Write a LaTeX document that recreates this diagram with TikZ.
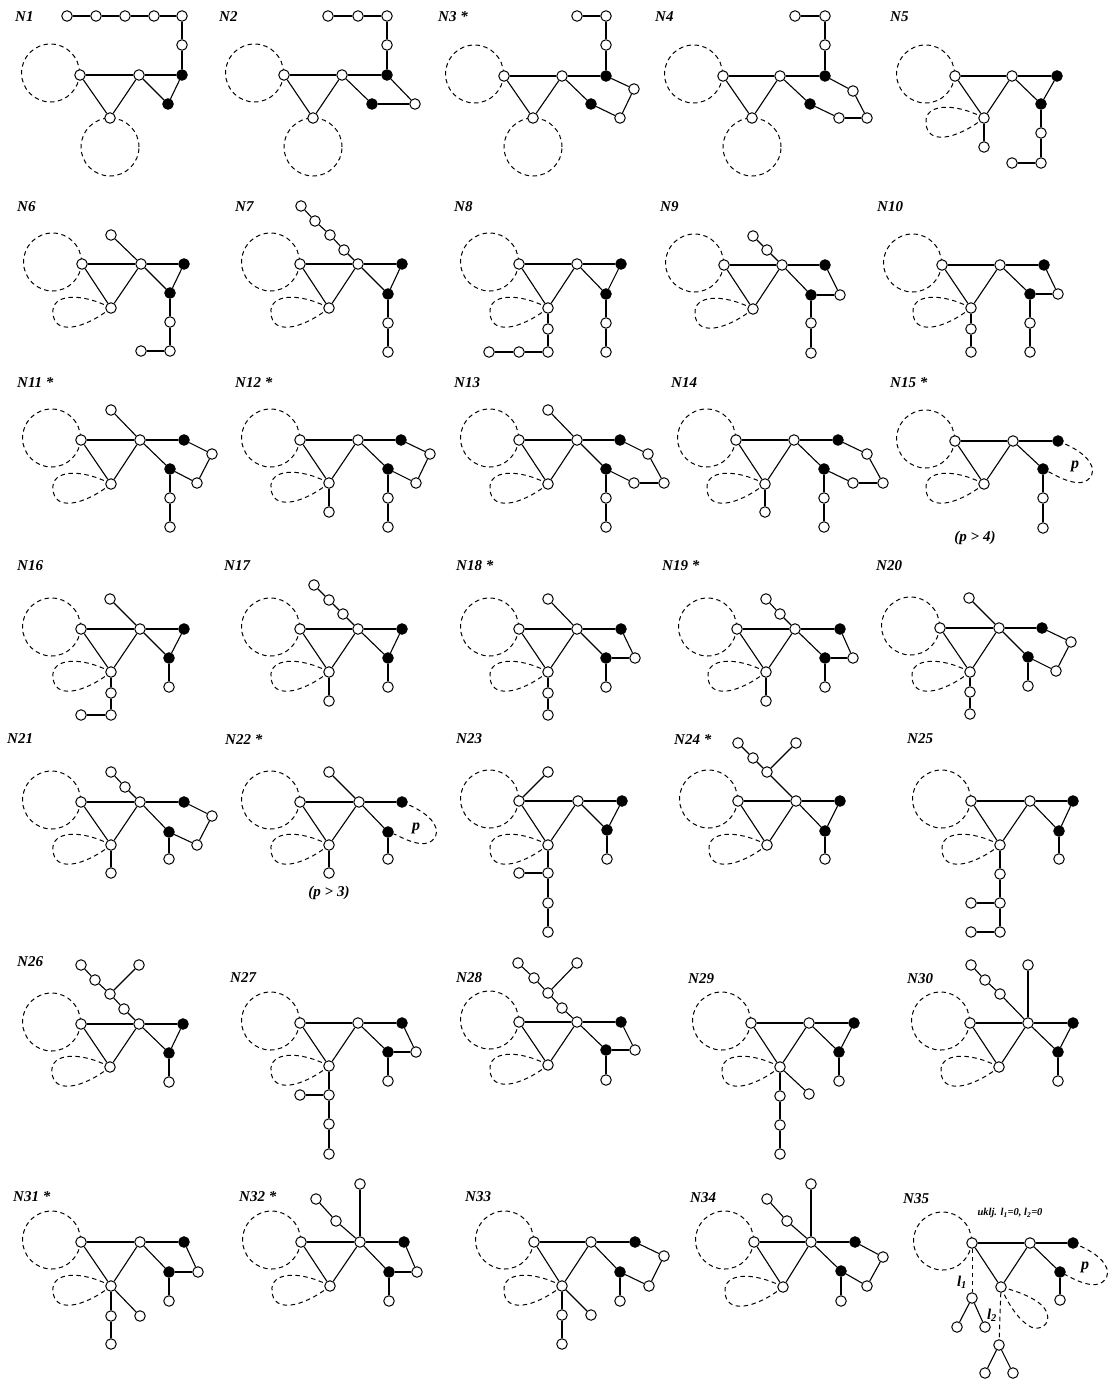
\documentclass[tikz,border=0pt]{standalone}
\usepackage{fontspec}
\setmainfont{Liberation Serif}
\usetikzlibrary{calc}
\pgfdeclarelayer{bg}
\pgfsetlayers{bg,main}
\tikzset{
 wnode/.style={circle,draw,fill=white,inner sep=0pt,minimum size=10.5pt,line width=1pt},
 bnode/.style={wnode,fill=black},
 edge/.style={line width=1.1pt},
 dsh/.style={line width=1pt,dash pattern=on 4.5pt off 3.5pt},
 lab/.style={anchor=west,inner sep=0pt,font=\fontsize{15}{17}\selectfont\bfseries\itshape},
 plab/.style={inner sep=0pt,font=\fontsize{16}{18}\selectfont\bfseries\itshape},
 cond/.style={inner sep=0pt,font=\fontsize{15}{17}\selectfont\bfseries\itshape},
}
\newcommand\Wn[3]{\node[wnode] (#1) at (#2,#3) {};}
\newcommand\Bn[3]{\node[bnode] (#1) at (#2,#3) {};}
\newcommand\E[1]{\foreach \u/\v in {#1} {\draw[edge] (\u)--(\v);}}
\newcommand\core[1]{\E{#1A/#1B,#1A/#1C,#1B/#1C,#1B/#1R,#1B/#1L}}
\newcommand\lcirc[1]{\begin{pgfonlayer}{bg}\draw[dsh] ($(#1)+(-29.5,-2)$) circle[radius=29pt];\end{pgfonlayer}}
\newcommand\bcirc[1]{\begin{pgfonlayer}{bg}\draw[dsh] ($(#1)+(0,29)$) circle[radius=29pt];\end{pgfonlayer}}
\newcommand\tear[1]{\begin{pgfonlayer}{bg}\begin{scope}[shift={(#1)}]\draw[dsh] (0,0) .. controls (-30,-16) and (-60,-14) .. (-58,5) .. controls (-57,27) and (-28,22) .. (0,0);\end{scope}\end{pgfonlayer}}
\newcommand\ploop[2]{\begin{pgfonlayer}{bg}\begin{scope}[shift={(#1)}]\draw[dsh] (0,0) .. controls (15,6) and (30,14) .. (34,26) .. controls (37,38) and (25,44) .. (15,41) .. controls (5,39) and (-5,33) .. (#2);\end{scope}\end{pgfonlayer}}
\begin{document}
\begin{tikzpicture}[x=1pt,y=-1pt]
\begin{pgfonlayer}{bg}\fill[white] (0,0) rectangle (1108,1383);\end{pgfonlayer}
\useasboundingbox (0,0) rectangle (1108,1383);
% ---------- labels
\node[lab] (t1) at (15,17) {N1};
\node[lab] (t2) at (219,17) {N2};
\node[lab] (t3) at (438,17) {N3 *};
\node[lab] (t4) at (655,17) {N4};
\node[lab] (t5) at (890,17) {N5};
\node[lab] (t6) at (17,207) {N6};
\node[lab] (t7) at (235,207) {N7};
\node[lab] (t8) at (454,207) {N8};
\node[lab] (t9) at (660,207) {N9};
\node[lab] (t10) at (877,207) {N10};
\node[lab] (t11) at (17,383) {N11 *};
\node[lab] (t12) at (235,383) {N12 *};
\node[lab] (t13) at (454,383) {N13};
\node[lab] (t14) at (671,383) {N14};
\node[lab] (t15) at (890,383) {N15 *};
\node[lab] (t16) at (17,566) {N16};
\node[lab] (t17) at (224,566) {N17};
\node[lab] (t18) at (456,566) {N18 *};
\node[lab] (t19) at (662,566) {N19 *};
\node[lab] (t20) at (876,566) {N20};
\node[lab] (t21) at (7,739) {N21};
\node[lab] (t22) at (225,739) {N22 *};
\node[lab] (t23) at (456,739) {N23};
\node[lab] (t24) at (674,739) {N24 *};
\node[lab] (t25) at (907,739) {N25};
\node[lab] (t26) at (17,962) {N26};
\node[lab] (t27) at (230,978) {N27};
\node[lab] (t28) at (456,978) {N28};
\node[lab] (t29) at (688,979) {N29};
\node[lab] (t30) at (907,979) {N30};
\node[lab] (t31) at (13,1197) {N31 *};
\node[lab] (t32) at (239,1197) {N32 *};
\node[lab] (t33) at (465,1197) {N33};
\node[lab] (t34) at (690,1198) {N34};
\node[lab] (t35) at (903,1199) {N35};
% ---------- N1
\Wn{n1A}{80}{75}\Wn{n1B}{139}{75}\Wn{n1C}{110}{118}\Bn{n1R}{182}{75}\Bn{n1L}{168}{104}
\Wn{n1T1}{182}{45}\Wn{n1T2}{182}{16}\Wn{n1T3}{154}{16}\Wn{n1T4}{125}{16}\Wn{n1T5}{96}{16}\Wn{n1T6}{67}{16}
\core{n1}\E{n1R/n1L,n1R/n1T1,n1T1/n1T2,n1T2/n1T3,n1T3/n1T4,n1T4/n1T5,n1T5/n1T6}
\lcirc{n1A}\bcirc{n1C}
% ---------- N2
\Wn{n2A}{284}{75}\Wn{n2B}{342}{75}\Wn{n2C}{313}{118}\Bn{n2R}{387}{75}\Bn{n2L}{372}{104}\Wn{n2X}{415}{104}
\Wn{n2T1}{387}{45}\Wn{n2T2}{387}{16}\Wn{n2T3}{358}{16}\Wn{n2T4}{328}{16}
\core{n2}\E{n2L/n2X,n2X/n2R,n2R/n2T1,n2T1/n2T2,n2T2/n2T3,n2T3/n2T4}
\lcirc{n2A}\bcirc{n2C}
% ---------- N3
\Wn{n3A}{504}{76}\Wn{n3B}{562}{76}\Wn{n3C}{533}{118}\Bn{n3R}{606}{76}\Bn{n3L}{591}{104}\Wn{n3X1}{620}{118}\Wn{n3X2}{634}{89}
\Wn{n3T1}{606}{45}\Wn{n3T2}{606}{16}\Wn{n3T3}{577}{16}
\core{n3}\E{n3L/n3X1,n3X1/n3X2,n3X2/n3R,n3R/n3T1,n3T1/n3T2,n3T2/n3T3}
\lcirc{n3A}\bcirc{n3C}
% ---------- N4
\Wn{n4A}{723}{76}\Wn{n4B}{780}{76}\Wn{n4C}{752}{118}\Bn{n4R}{825}{76}\Bn{n4L}{810}{104}\Wn{n4X1}{839}{118}\Wn{n4X2}{867}{118}\Wn{n4X3}{853}{91}
\Wn{n4T1}{825}{45}\Wn{n4T2}{825}{16}\Wn{n4T3}{795}{16}
\core{n4}\E{n4L/n4X1,n4X1/n4X2,n4X2/n4X3,n4X3/n4R,n4R/n4T1,n4T1/n4T2,n4T2/n4T3}
\lcirc{n4A}\bcirc{n4C}
% ---------- N5
\Wn{n5A}{955}{76}\Wn{n5B}{1012}{76}\Wn{n5C}{984}{118}\Bn{n5R}{1057}{76}\Bn{n5L}{1041}{104}
\Wn{n5D1}{1041}{133}\Wn{n5D2}{1041}{163}\Wn{n5D3}{1012}{163}\Wn{n5E1}{984}{147}
\core{n5}\E{n5R/n5L,n5L/n5D1,n5D1/n5D2,n5D2/n5D3,n5C/n5E1}
\lcirc{n5A}\tear{n5C}
% ---------- N6
\Wn{n6A}{82}{264}\Wn{n6B}{141}{264}\Wn{n6C}{111}{308}\Bn{n6R}{184}{264}\Bn{n6L}{170}{293}
\Wn{n6P}{111}{235}\Wn{n6D1}{170}{322}\Wn{n6D2}{170}{351}\Wn{n6D3}{141}{351}
\core{n6}\E{n6R/n6L,n6B/n6P,n6L/n6D1,n6D1/n6D2,n6D2/n6D3}
\lcirc{n6A}\tear{n6C}
% ---------- N7
\Wn{n7A}{300}{264}\Wn{n7B}{358}{264}\Wn{n7C}{329}{308}\Bn{n7R}{402}{264}\Bn{n7L}{388}{294}
\Wn{n7Q1}{344}{250}\Wn{n7Q2}{330}{235}\Wn{n7Q3}{315}{221}\Wn{n7Q4}{301}{206}\Wn{n7D1}{388}{323}\Wn{n7D2}{388}{352}
\core{n7}\E{n7R/n7L,n7B/n7Q1,n7Q1/n7Q2,n7Q2/n7Q3,n7Q3/n7Q4,n7L/n7D1,n7D1/n7D2}
\lcirc{n7A}\tear{n7C}
% ---------- N8
\Wn{n8A}{519}{264}\Wn{n8B}{577}{264}\Wn{n8C}{548}{308}\Bn{n8R}{621}{264}\Bn{n8L}{606}{294}
\Wn{n8D1}{606}{323}\Wn{n8D2}{606}{352}\Wn{n8E1}{548}{329}\Wn{n8E2}{548}{352}\Wn{n8E3}{519}{352}\Wn{n8E4}{489}{352}
\core{n8}\E{n8R/n8L,n8L/n8D1,n8D1/n8D2,n8C/n8E1,n8E1/n8E2,n8E2/n8E3,n8E3/n8E4}
\lcirc{n8A}\tear{n8C}
% ---------- N9
\Wn{n9A}{724}{265}\Wn{n9B}{782}{265}\Wn{n9C}{753}{309}\Bn{n9R}{825}{265}\Bn{n9L}{811}{295}\Wn{n9X}{840}{295}
\Wn{n9Q1}{767}{250}\Wn{n9Q2}{753}{236}\Wn{n9D1}{811}{323}\Wn{n9D2}{811}{353}
\core{n9}\E{n9L/n9X,n9X/n9R,n9B/n9Q1,n9Q1/n9Q2,n9L/n9D1,n9D1/n9D2}
\lcirc{n9A}\tear{n9C}
% ---------- N10
\Wn{n10A}{942}{265}\Wn{n10B}{1000}{265}\Wn{n10C}{971}{308}\Bn{n10R}{1044}{265}\Bn{n10L}{1030}{294}\Wn{n10X}{1058}{294}
\Wn{n10D1}{1030}{323}\Wn{n10D2}{1030}{352}\Wn{n10E1}{971}{329}\Wn{n10E2}{971}{352}
\core{n10}\E{n10L/n10X,n10X/n10R,n10L/n10D1,n10D1/n10D2,n10C/n10E1,n10E1/n10E2}
\lcirc{n10A}\tear{n10C}
% ---------- N11
\Wn{n11A}{81}{440}\Wn{n11B}{140}{440}\Wn{n11C}{111}{484}\Bn{n11R}{184}{440}\Bn{n11L}{170}{469}\Wn{n11X1}{197}{483}\Wn{n11X2}{212}{454}
\Wn{n11P}{111}{410}\Wn{n11D1}{170}{498}\Wn{n11D2}{170}{527}
\core{n11}\E{n11L/n11X1,n11X1/n11X2,n11X2/n11R,n11B/n11P,n11L/n11D1,n11D1/n11D2}
\lcirc{n11A}\tear{n11C}
% ---------- N12
\Wn{n12A}{300}{440}\Wn{n12B}{358}{440}\Wn{n12C}{329}{483}\Bn{n12R}{401}{440}\Bn{n12L}{388}{469}\Wn{n12X1}{416}{483}\Wn{n12X2}{430}{454}
\Wn{n12D1}{388}{498}\Wn{n12D2}{388}{527}\Wn{n12E1}{329}{512}
\core{n12}\E{n12L/n12X1,n12X1/n12X2,n12X2/n12R,n12L/n12D1,n12D1/n12D2,n12C/n12E1}
\lcirc{n12A}\tear{n12C}
% ---------- N13
\Wn{n13A}{519}{440}\Wn{n13B}{577}{440}\Wn{n13C}{548}{484}\Bn{n13R}{620}{440}\Bn{n13L}{606}{469}\Wn{n13X1}{634}{483}\Wn{n13X2}{664}{483}\Wn{n13X3}{648}{454}
\Wn{n13P}{548}{410}\Wn{n13D1}{606}{498}\Wn{n13D2}{606}{527}
\core{n13}\E{n13L/n13X1,n13X1/n13X2,n13X2/n13X3,n13X3/n13R,n13B/n13P,n13L/n13D1,n13D1/n13D2}
\lcirc{n13A}\tear{n13C}
% ---------- N14
\Wn{n14A}{736}{440}\Wn{n14B}{794}{440}\Wn{n14C}{765}{484}\Bn{n14R}{838}{440}\Bn{n14L}{824}{469}\Wn{n14X1}{853}{483}\Wn{n14X2}{883}{483}\Wn{n14X3}{867}{454}
\Wn{n14D1}{824}{498}\Wn{n14D2}{824}{527}\Wn{n14E1}{765}{512}
\core{n14}\E{n14L/n14X1,n14X1/n14X2,n14X2/n14X3,n14X3/n14R,n14L/n14D1,n14D1/n14D2,n14C/n14E1}
\lcirc{n14A}\tear{n14C}
% ---------- N15
\Wn{n15A}{955}{441}\Wn{n15B}{1013}{441}\Wn{n15C}{984}{484}\Bn{n15R}{1058}{441}\Bn{n15L}{1043}{469}
\Wn{n15D1}{1043}{498}\Wn{n15D2}{1043}{528}
\core{n15}\E{n15L/n15D1,n15D1/n15D2}
\lcirc{n15A}\tear{n15C}\ploop{n15R}{n15L}
\node[plab] (p15) at (1075,466) {p};
\node[cond] (c15) at (975,538) {(p > 4)};
% ---------- N16
\Wn{n16A}{81}{629}\Wn{n16B}{140}{629}\Wn{n16C}{111}{672}\Bn{n16R}{184}{629}\Bn{n16L}{169}{658}
\Wn{n16P}{110}{599}\Wn{n16D1}{169}{687}\Wn{n16E1}{111}{693}\Wn{n16E2}{111}{715}\Wn{n16E3}{81}{715}
\core{n16}\E{n16R/n16L,n16B/n16P,n16L/n16D1,n16C/n16E1,n16E1/n16E2,n16E2/n16E3}
\lcirc{n16A}\tear{n16C}
% ---------- N17
\Wn{n17A}{300}{629}\Wn{n17B}{358}{629}\Wn{n17C}{329}{672}\Bn{n17R}{402}{629}\Bn{n17L}{388}{658}
\Wn{n17Q1}{343}{614}\Wn{n17Q2}{329}{600}\Wn{n17Q3}{314}{585}\Wn{n17D1}{388}{687}\Wn{n17E1}{329}{701}
\core{n17}\E{n17R/n17L,n17B/n17Q1,n17Q1/n17Q2,n17Q2/n17Q3,n17L/n17D1,n17C/n17E1}
\lcirc{n17A}\tear{n17C}
% ---------- N18
\Wn{n18A}{519}{629}\Wn{n18B}{577}{629}\Wn{n18C}{548}{672}\Bn{n18R}{621}{629}\Bn{n18L}{606}{658}\Wn{n18X}{635}{658}
\Wn{n18P}{548}{599}\Wn{n18D1}{606}{687}\Wn{n18E1}{548}{693}\Wn{n18E2}{548}{715}
\core{n18}\E{n18L/n18X,n18X/n18R,n18B/n18P,n18L/n18D1,n18C/n18E1,n18E1/n18E2}
\lcirc{n18A}\tear{n18C}
% ---------- N19
\Wn{n19A}{737}{629}\Wn{n19B}{795}{629}\Wn{n19C}{766}{672}\Bn{n19R}{840}{629}\Bn{n19L}{825}{658}\Wn{n19X}{853}{658}
\Wn{n19Q1}{780}{614}\Wn{n19Q2}{766}{599}\Wn{n19D1}{825}{687}\Wn{n19E1}{766}{701}
\core{n19}\E{n19L/n19X,n19X/n19R,n19B/n19Q1,n19Q1/n19Q2,n19L/n19D1,n19C/n19E1}
\lcirc{n19A}\tear{n19C}
% ---------- N20
\Wn{n20A}{940}{628}\Wn{n20B}{999}{628}\Wn{n20C}{970}{672}\Bn{n20R}{1042}{628}\Bn{n20L}{1028}{657}\Wn{n20X1}{1056}{671}\Wn{n20X2}{1071}{642}
\Wn{n20P}{969}{598}\Wn{n20D1}{1028}{686}\Wn{n20E1}{970}{692}\Wn{n20E2}{970}{714}
\core{n20}\E{n20L/n20X1,n20X1/n20X2,n20X2/n20R,n20B/n20P,n20L/n20D1,n20C/n20E1,n20E1/n20E2}
\lcirc{n20A}\tear{n20C}
% ---------- N21
\Wn{n21A}{81}{802}\Wn{n21B}{140}{802}\Wn{n21C}{111}{845}\Bn{n21R}{184}{802}\Bn{n21L}{169}{832}\Wn{n21X1}{197}{845}\Wn{n21X2}{212}{816}
\Wn{n21Q1}{125}{787}\Wn{n21Q2}{111}{772}\Wn{n21D1}{169}{859}\Wn{n21E1}{111}{873}
\core{n21}\E{n21L/n21X1,n21X1/n21X2,n21X2/n21R,n21B/n21Q1,n21Q1/n21Q2,n21L/n21D1,n21C/n21E1}
\lcirc{n21A}\tear{n21C}
% ---------- N22
\Wn{n22A}{300}{802}\Wn{n22B}{359}{802}\Wn{n22C}{329}{845}\Bn{n22R}{402}{802}\Bn{n22L}{388}{832}
\Wn{n22P}{329}{772}\Wn{n22D1}{388}{859}\Wn{n22E1}{329}{873}
\core{n22}\E{n22B/n22P,n22L/n22D1,n22C/n22E1}
\lcirc{n22A}\tear{n22C}\ploop{n22R}{n22L}
\node[plab] (p22) at (416,828) {p};
\node[cond] (c22) at (329,893) {(p > 3)};
% ---------- N23
\Wn{n23A}{519}{801}\Wn{n23B}{578}{801}\Wn{n23C}{548}{845}\Bn{n23R}{622}{801}\Bn{n23L}{607}{830}
\Wn{n23P}{548}{772}\Wn{n23D1}{607}{859}\Wn{n23E1}{548}{873}\Wn{n23F}{519}{873}\Wn{n23E2}{548}{903}\Wn{n23E3}{548}{932}
\core{n23}\E{n23R/n23L,n23A/n23P,n23L/n23D1,n23C/n23E1,n23E1/n23F,n23E1/n23E2,n23E2/n23E3}
\lcirc{n23A}\tear{n23C}
% ---------- N24
\Wn{n24A}{738}{801}\Wn{n24B}{796}{801}\Wn{n24C}{767}{845}\Bn{n24R}{840}{801}\Bn{n24L}{825}{831}
\Wn{n24D1}{825}{859}\Wn{n24M}{767}{772}\Wn{n24Q1}{753}{758}\Wn{n24Q2}{738}{743}\Wn{n24U}{796}{743}
\core{n24}\E{n24R/n24L,n24L/n24D1,n24B/n24M,n24M/n24Q1,n24Q1/n24Q2,n24M/n24U}
\lcirc{n24A}\tear{n24C}
% ---------- N25
\Wn{n25A}{971}{801}\Wn{n25B}{1030}{801}\Wn{n25C}{1000}{845}\Bn{n25R}{1073}{801}\Bn{n25L}{1059}{831}
\Wn{n25D1}{1059}{859}\Wn{n25E1}{1000}{874}\Wn{n25E2}{1000}{903}\Wn{n25F2}{971}{903}\Wn{n25E3}{1000}{932}\Wn{n25F3}{971}{932}
\core{n25}\E{n25R/n25L,n25L/n25D1,n25C/n25E1,n25E1/n25E2,n25E2/n25F2,n25E2/n25E3,n25E3/n25F3}
\lcirc{n25A}\tear{n25C}
% ---------- N26
\Wn{n26A}{81}{1024}\Wn{n26B}{139}{1024}\Wn{n26C}{110}{1067}\Bn{n26R}{183}{1024}\Bn{n26L}{169}{1053}
\Wn{n26D1}{169}{1082}\Wn{n26M1}{124}{1009}\Wn{n26M}{110}{994}\Wn{n26Q1}{95}{980}\Wn{n26Q2}{81}{965}\Wn{n26U}{139}{965}
\core{n26}\E{n26R/n26L,n26L/n26D1,n26B/n26M1,n26M1/n26M,n26M/n26Q1,n26Q1/n26Q2,n26M/n26U}
\lcirc{n26A}\tear{n26C}
% ---------- N27
\Wn{n27A}{300}{1023}\Wn{n27B}{358}{1023}\Wn{n27C}{329}{1066}\Bn{n27R}{402}{1023}\Bn{n27L}{388}{1052}\Wn{n27X}{416}{1052}
\Wn{n27D1}{388}{1081}\Wn{n27E1}{329}{1095}\Wn{n27F}{300}{1095}\Wn{n27E2}{329}{1124}\Wn{n27E3}{329}{1154}
\core{n27}\E{n27L/n27X,n27X/n27R,n27L/n27D1,n27C/n27E1,n27E1/n27F,n27E1/n27E2,n27E2/n27E3}
\lcirc{n27A}\tear{n27C}
% ---------- N28
\Wn{n28A}{519}{1022}\Wn{n28B}{577}{1022}\Wn{n28C}{548}{1065}\Bn{n28R}{621}{1022}\Bn{n28L}{606}{1050}\Wn{n28X}{635}{1050}
\Wn{n28D1}{606}{1080}\Wn{n28M1}{562}{1008}\Wn{n28M}{548}{993}\Wn{n28Q1}{534}{978}\Wn{n28Q2}{518}{963}\Wn{n28U}{577}{963}
\core{n28}\E{n28L/n28X,n28X/n28R,n28L/n28D1,n28B/n28M1,n28M1/n28M,n28M/n28Q1,n28Q1/n28Q2,n28M/n28U}
\lcirc{n28A}\tear{n28C}
% ---------- N29
\Wn{n29A}{751}{1023}\Wn{n29B}{809}{1023}\Wn{n29C}{780}{1067}\Bn{n29R}{854}{1023}\Bn{n29L}{839}{1052}
\Wn{n29D1}{839}{1081}\Wn{n29E1}{780}{1096}\Wn{n29E2}{780}{1125}\Wn{n29E3}{780}{1154}\Wn{n29F}{809}{1094}
\core{n29}\E{n29R/n29L,n29L/n29D1,n29C/n29E1,n29E1/n29E2,n29E2/n29E3,n29C/n29F}
\lcirc{n29A}\tear{n29C}
% ---------- N30
\Wn{n30A}{970}{1023}\Wn{n30B}{1028}{1023}\Wn{n30C}{999}{1067}\Bn{n30R}{1073}{1023}\Bn{n30L}{1058}{1052}
\Wn{n30D1}{1058}{1081}\Wn{n30U}{1028}{965}\Wn{n30M}{1000}{994}\Wn{n30Q1}{985}{980}\Wn{n30Q2}{971}{965}
\core{n30}\E{n30R/n30L,n30L/n30D1,n30B/n30U,n30B/n30M,n30M/n30Q1,n30Q1/n30Q2}
\lcirc{n30A}\tear{n30C}
% ---------- N31
\Wn{n31A}{81}{1242}\Wn{n31B}{140}{1242}\Wn{n31C}{111}{1286}\Bn{n31R}{184}{1242}\Bn{n31L}{169}{1272}\Wn{n31X}{198}{1272}
\Wn{n31D1}{169}{1301}\Wn{n31E1}{111}{1316}\Wn{n31E2}{111}{1344}\Wn{n31F}{140}{1316}
\core{n31}\E{n31L/n31X,n31X/n31R,n31L/n31D1,n31C/n31E1,n31E1/n31E2,n31C/n31F}
\lcirc{n31A}\tear{n31C}
% ---------- N32
\Wn{n32A}{301}{1242}\Wn{n32B}{360}{1242}\Wn{n32C}{330}{1286}\Bn{n32R}{404}{1242}\Bn{n32L}{389}{1272}\Wn{n32X}{417}{1272}
\Wn{n32D1}{389}{1301}\Wn{n32U}{360}{1184}\Wn{n32Q1}{336}{1221}\Wn{n32Q2}{316}{1199}
\core{n32}\E{n32L/n32X,n32X/n32R,n32L/n32D1,n32B/n32U,n32B/n32Q1,n32Q1/n32Q2}
\lcirc{n32A}\tear{n32C}
% ---------- N33
\Wn{n33A}{534}{1242}\Wn{n33B}{591}{1242}\Wn{n33C}{562}{1286}\Bn{n33R}{635}{1242}\Bn{n33L}{620}{1272}\Wn{n33X1}{649}{1286}\Wn{n33X2}{664}{1256}
\Wn{n33D1}{620}{1301}\Wn{n33E1}{562}{1315}\Wn{n33E2}{562}{1344}\Wn{n33F}{591}{1315}
\core{n33}\E{n33L/n33X1,n33X1/n33X2,n33X2/n33R,n33L/n33D1,n33C/n33E1,n33E1/n33E2,n33C/n33F}
\lcirc{n33A}\tear{n33C}
% ---------- N34
\Wn{n34A}{754}{1242}\Wn{n34B}{811}{1242}\Wn{n34C}{783}{1287}\Bn{n34R}{855}{1242}\Bn{n34L}{841}{1271}\Wn{n34X1}{867}{1286}\Wn{n34X2}{883}{1257}
\Wn{n34D1}{841}{1301}\Wn{n34U}{811}{1184}\Wn{n34Q1}{787}{1221}\Wn{n34Q2}{767}{1199}
\core{n34}\E{n34L/n34X1,n34X1/n34X2,n34X2/n34R,n34L/n34D1,n34B/n34U,n34B/n34Q1,n34Q1/n34Q2}
\lcirc{n34A}\tear{n34C}
% ---------- N35
\Wn{n35A}{972}{1243}\Wn{n35B}{1030}{1243}\Wn{n35C}{1001}{1287}\Bn{n35R}{1073}{1243}\Bn{n35L}{1060}{1272}
\Wn{n35D1}{1060}{1300}\Wn{n35G1}{972}{1298}\Wn{n35G1a}{957}{1327}\Wn{n35G1b}{985}{1327}
\Wn{n35G2}{999}{1345}\Wn{n35G2a}{985}{1373}\Wn{n35G2b}{1013}{1373}
\core{n35}\E{n35L/n35D1,n35G1/n35G1a,n35G1/n35G1b,n35G2/n35G2a,n35G2/n35G2b}
\draw[dsh] (n35A)--(n35G1);
\draw[dsh] (n35C)--(n35G2);
\lcirc{n35A}\ploop{n35R}{n35L}
\begin{pgfonlayer}{bg}\begin{scope}[shift={(n35C)}]\draw[dsh] (0,0) .. controls (20,5) and (42,14) .. (46,26) .. controls (50,38) and (38,44) .. (30,40) .. controls (20,35) and (8,20) .. (0,0);\end{scope}\end{pgfonlayer}
\node[plab] (p35) at (1085,1267) {p};
\node[cond] (l35a) at (962,1282) {l\textsubscript{1}};
\node[cond] (l35b) at (992,1315) {l\textsubscript{2}};
\node[inner sep=0pt,font=\fontsize{10.5}{12}\selectfont\bfseries\itshape] (u35) at (1010,1213) {uklj. l\textsubscript{1}=0, l\textsubscript{2}=0};
\end{tikzpicture}
\end{document}
